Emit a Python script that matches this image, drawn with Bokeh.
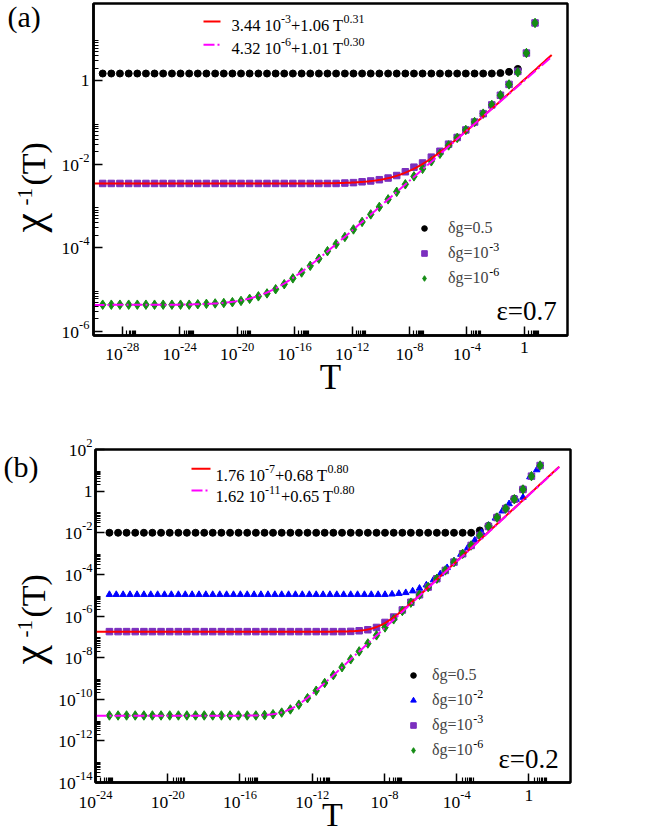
import math
import numpy as np
from bokeh.plotting import figure
from bokeh.models import (Range1d, FixedTicker, CustomJSTickFormatter, Label,
                          Arrow, Legend, LegendItem)
from bokeh.embed import file_html
from bokeh.resources import INLINE

SERIF = "Liberation Serif"
PURPLE = "#7b2fbe"
GREEN = "#148c14"
BLUE = "#0000ff"

# ---------------- panel (a): epsilon = 0.7 ----------------
# log10(T) of the data points
a_logT = [-29.36, -28.76, -28.16, -27.55, -26.95, -26.35, -25.75, -25.15, -24.54, -23.94,
          -23.34, -22.74, -22.14, -21.53, -20.93, -20.33, -19.73, -19.13, -18.52, -17.92,
          -17.32, -16.72, -16.12, -15.51, -14.91, -14.31, -13.71, -13.11, -12.50, -11.90,
          -11.30, -10.70, -10.10, -9.49, -8.89, -8.29, -7.69, -7.09, -6.48, -5.88,
          -5.28, -4.68, -4.08, -3.47, -2.87, -2.27, -1.67, -1.07, -0.46, 0.14, 0.74]
# log10(chi^-1) for dg = 0.5 (first 49 temperatures)
a_black = [0.17, 0.17, 0.17, 0.17, 0.17, 0.17, 0.17, 0.17, 0.17, 0.17,
           0.17, 0.17, 0.17, 0.17, 0.17, 0.17, 0.17, 0.17, 0.17, 0.17,
           0.17, 0.17, 0.17, 0.17, 0.17, 0.17, 0.17, 0.17, 0.17, 0.17,
           0.17, 0.17, 0.17, 0.17, 0.17, 0.17, 0.17, 0.17, 0.17, 0.17,
           0.17, 0.17, 0.17, 0.17, 0.17, 0.17, 0.18, 0.21, 0.28]
# dg = 1e-3
a_purple = [-2.46, -2.46, -2.46, -2.46, -2.46, -2.46, -2.46, -2.46, -2.46, -2.46,
            -2.46, -2.46, -2.46, -2.46, -2.46, -2.46, -2.46, -2.46, -2.46, -2.46,
            -2.46, -2.46, -2.46, -2.46, -2.46, -2.46, -2.46, -2.46, -2.45, -2.44,
            -2.42, -2.40, -2.37, -2.33, -2.27, -2.18, -2.07, -1.97, -1.83, -1.69,
            -1.52, -1.36, -1.18, -0.99, -0.79, -0.58, -0.35, -0.09, 0.22, 0.66, 1.38]
# dg = 1e-6
a_green = [-5.36, -5.36, -5.36, -5.36, -5.36, -5.36, -5.36, -5.36, -5.36, -5.36,
           -5.36, -5.35, -5.34, -5.33, -5.32, -5.30, -5.27, -5.22, -5.16, -5.09,
           -4.99, -4.87, -4.73, -4.59, -4.43, -4.26, -4.08, -3.91, -3.74, -3.56,
           -3.38, -3.20, -3.02, -2.84, -2.66, -2.48, -2.29, -2.11, -1.93, -1.75,
           -1.55, -1.37, -1.18, -0.99, -0.79, -0.58, -0.35, -0.09, 0.20, 0.66, 1.38]
# fit parameters  c + a*T^b  (from the legend)
a_fit_red = [3.44e-3, 1.06, 0.31]
a_fit_mag = [4.32e-6, 1.01, 0.30]
a_fit_logT_range = [-30.0, 1.9]
a_xrange = [1e-30, 1e3]
a_yrange = [8e-7, 70.0]
a_xmajor_exp = [-28, -24, -20, -16, -12, -8, -4, 0]
a_ymajor_exp = [-6, -4, -2, 0]

# ---------------- panel (b): epsilon = 0.2 ----------------
b_logT = [-23.23, -22.75, -22.28, -21.80, -21.32, -20.85, -20.37, -19.89, -19.41, -18.94,
          -18.46, -17.98, -17.51, -17.03, -16.55, -16.08, -15.60, -15.12, -14.64, -14.17,
          -13.69, -13.21, -12.74, -12.26, -11.78, -11.31, -10.83, -10.35, -9.87, -9.40,
          -8.92, -8.44, -7.97, -7.49, -7.01, -6.54, -6.06, -5.58, -5.10, -4.63,
          -4.15, -3.67, -3.20, -2.72, -2.24, -1.77, -1.29, -0.81, -0.33, 0.14, 0.62]
b_black = [-2.00, -2.00, -2.00, -2.00, -2.00, -2.00, -2.00, -2.00, -2.00, -2.00,
           -2.00, -2.00, -2.00, -2.00, -2.00, -2.00, -2.00, -2.00, -2.00, -2.00,
           -2.00, -2.00, -2.00, -2.00, -2.00, -2.00, -2.00, -2.00, -2.00, -2.00,
           -2.00, -2.00, -2.00, -2.00, -2.00, -2.00, -2.00, -2.00, -2.00, -2.00,
           -2.00, -2.00, -2.00, -1.89, -1.67, -1.25, -0.82, -0.37, 0.09]
b_blue_logT = [-23.23, -22.85, -22.47, -22.09, -21.70, -21.32, -20.94, -20.56, -20.18, -19.80,
               -19.41, -19.03, -18.65, -18.27, -17.89, -17.51, -17.12, -16.74, -16.36, -15.98,
               -15.60, -15.22, -14.84, -14.45, -14.07, -13.69, -13.31, -12.93, -12.55, -12.16,
               -11.78, -11.40, -11.02, -10.64, -10.26, -9.87, -9.49, -9.11, -8.73, -8.35,
               -7.97, -7.58, -7.20, -6.82, -6.44, -6.06, -5.68, -5.29, -4.91, -4.53,
               -4.15, -3.77, -3.39, -3.00, -2.62, -2.24, -1.86, -1.48, -1.10, -0.71,
               -0.33, 0.05, 0.43]
b_blue = [-4.97, -4.97, -4.97, -4.97, -4.97, -4.97, -4.97, -4.97, -4.97, -4.97,
          -4.97, -4.97, -4.97, -4.97, -4.97, -4.97, -4.97, -4.97, -4.97, -4.97,
          -4.97, -4.97, -4.97, -4.97, -4.97, -4.97, -4.97, -4.97, -4.97, -4.97,
          -4.97, -4.97, -4.97, -4.97, -4.97, -4.97, -4.97, -4.97, -4.97, -4.97,
          -4.97, -4.95, -4.92, -4.88, -4.80, -4.67, -4.51, -4.27, -3.98, -3.68,
          -3.36, -3.04, -2.72, -2.36, -1.99, -1.65, -1.30, -0.96, -0.61, -0.40,
          -0.30, 0.68, 1.02]
b_purple = [-6.75, -6.75, -6.75, -6.75, -6.75, -6.75, -6.75, -6.75, -6.75, -6.75,
            -6.75, -6.75, -6.75, -6.75, -6.75, -6.75, -6.75, -6.75, -6.75, -6.75,
            -6.75, -6.75, -6.75, -6.75, -6.75, -6.75, -6.75, -6.75, -6.74, -6.71,
            -6.66, -6.55, -6.31, -6.05, -5.71, -5.34, -4.98, -4.61, -4.21, -3.81,
            -3.41, -3.01, -2.61, -2.13, -1.70, -1.27, -0.84, -0.39, 0.08, 0.72, 1.23]
b_green = [-10.78, -10.78, -10.78, -10.78, -10.78, -10.78, -10.78, -10.78, -10.78, -10.78,
           -10.78, -10.78, -10.78, -10.78, -10.78, -10.78, -10.78, -10.78, -10.76, -10.72,
           -10.64, -10.49, -10.26, -9.95, -9.59, -9.22, -8.84, -8.46, -8.08, -7.70,
           -7.32, -6.93, -6.55, -6.16, -5.76, -5.36, -4.98, -4.61, -4.21, -3.81,
           -3.41, -3.01, -2.61, -2.13, -1.70, -1.27, -0.84, -0.39, 0.08, 0.72, 1.23]
b_fit_red = [1.76e-7, 0.68, 0.80]
b_fit_mag = [1.62e-11, 0.65, 0.80]
b_fit_logT_range = [-24.0, 1.68]
b_xrange = [1e-24, 200.0]
b_yrange = [1e-14, 1e2]
b_xmajor_exp = [-24, -20, -16, -12, -8, -4, 0]
b_ymajor_exp = [-14, -12, -10, -8, -6, -4, -2, 0, 2]

# ---------------- page geometry (frame boxes, px) ----------------
A_FRAME = dict(left=93, top=3, w=474, h=332)
B_FRAME = dict(left=95, top=449, w=475, h=333)
FIG_W = 620
A_H = 410
B_H = 425
PAGE_W = 660
PAGE_H = A_H + B_H

WIDTH = {c: 0.5 for c in "0123456789"}
WIDTH.update({".": 0.25, " ": 0.25, "+": 0.564, "-": 0.333, "T": 0.611, "=": 0.564,
              "δ": 0.49, "g": 0.5, "ε": 0.44, "(": 0.333, ")": 0.333, "a": 0.444,
              "b": 0.5, "χ": 0.55})
MID = 0.3375   # baseline offset of a vertically centred line, in em


def tw(s, size):
    return sum(WIDTH.get(ch, 0.5) for ch in s) * size


def make_fig(fr, top_of_fig, fig_h, xr, yr):
    p = figure(width=FIG_W, height=fig_h, x_axis_type="log", y_axis_type="log",
               x_range=Range1d(*xr), y_range=Range1d(*yr), output_backend="svg",
               toolbar_location=None, title=None,
               min_border_left=fr["left"],
               min_border_right=FIG_W - fr["left"] - fr["w"],
               min_border_top=fr["top"] - top_of_fig,
               min_border_bottom=top_of_fig + fig_h - fr["top"] - fr["h"])
    p.xgrid.visible = False
    p.ygrid.visible = False
    p.outline_line_color = "black"
    p.outline_line_width = 2.5
    p.outline_line_alpha = 1.0
    p.background_fill_color = "white"
    p.border_fill_color = "white"
    return p


def style_axes(p, xexps, yexps):
    for ax, exps in ((p.xaxis[0], xexps), (p.yaxis[0], yexps)):
        majors = [10.0 ** e for e in exps]
        minors = [m * 10.0 ** e for e in exps for m in range(2, 10)]
        ax.ticker = FixedTicker(ticks=majors, minor_ticks=minors)
        ax.formatter = CustomJSTickFormatter(code="return '';")
        ax.major_label_text_font_size = "1px"
        ax.axis_line_width = 2.5
        ax.axis_line_color = "black"
        ax.major_tick_in = 9
        ax.major_tick_out = 0
        ax.minor_tick_in = 5
        ax.minor_tick_out = 0
        ax.major_tick_line_width = 1.5
        ax.minor_tick_line_width = 1.2
        ax.major_tick_line_color = "black"
        ax.minor_tick_line_color = "black"
        ax.major_label_standoff = 0


def fit_curve(params, lohi):
    c, a, b = params
    T = np.logspace(lohi[0], lohi[1], 400)
    return T, c + a * T ** b


def pts(logx, logy):
    return [10.0 ** v for v in logx[:len(logy)]], [10.0 ** v for v in logy]


DASHDOT = "11 3 2 3"

# ---------------- transparent text overlay (page pixel coordinates) ----------------
ov = figure(width=PAGE_W, height=PAGE_H, x_range=Range1d(0, PAGE_W),
            y_range=Range1d(PAGE_H, 0), x_axis_location=None, y_axis_location=None,
            output_backend="svg", toolbar_location=None, title=None,
            min_border=0, min_border_left=0, min_border_right=0,
            min_border_top=0, min_border_bottom=0,
            background_fill_color=None, border_fill_color=None, outline_line_color=None,
            margin=(-PAGE_H, 0, 0, 0))
ov.grid.visible = False


def T_(X, Y, text, size, align="left", angle=0.0):
    # (X, Y) is the wanted baseline point; the label is anchored at its vertical middle
    d = MID * size
    if angle == 0.0:
        x, y = X, Y - d
    else:
        x, y = X - d, Y
    ov.add_layout(Label(x=x, y=y, text=text, text_font=SERIF, text_font_size=f"{size}px",
                        text_align=align, text_baseline="middle", angle=angle,
                        text_color="black"))


def rich(X, Y, parts, size, sup_size, rise):
    x = X
    for s, is_sup in parts:
        if is_sup:
            T_(x, Y - rise, s, sup_size)
            x += tw(s, sup_size)
        else:
            T_(x, Y, s, size)
            x += tw(s, size)


def seg(X0, X1, Y, color, dash="solid"):
    ov.add_layout(Arrow(x_start=X0, y_start=Y, x_end=X1, y_end=Y, start=None, end=None,
                        line_color=color, line_width=2, line_dash=dash))


TICK = 17.5
TSUP = 12.5
TRISE = 9.5


def tick_labels(fr, xr, yr, xexps, yexps, x_base, y_right):
    lx0, lx1 = math.log10(xr[0]), math.log10(xr[1])
    ly0, ly1 = math.log10(yr[0]), math.log10(yr[1])
    for e in xexps:
        X = fr["left"] + (e - lx0) / (lx1 - lx0) * fr["w"]
        if e == 0:
            T_(X, x_base - 7, "1", TICK, align="center")
            continue
        s = str(e)
        w10, ws = tw("10", TICK), tw(s, TSUP)
        x0 = X - (w10 + ws) / 2
        T_(x0, x_base, "10", TICK)
        T_(x0 + w10, x_base - TRISE, s, TSUP)
    for e in yexps:
        Y = fr["top"] + (ly1 - e) / (ly1 - ly0) * fr["h"]
        if e == 0:
            T_(y_right, Y + 6, "1", TICK, align="right")
            continue
        s = str(e)
        ws = tw(s, TSUP)
        T_(y_right - ws, Y + 7, "10", TICK, align="right")
        T_(y_right, Y + 7 - TRISE, s, TSUP, align="right")


def ytitle(S):
    T_(43, S, "χ", 44, angle=math.pi / 2)
    T_(32, S - 27, "-1", 21, angle=math.pi / 2)
    T_(44, S - 47, "(T)", 34, angle=math.pi / 2)


# ---------------- figure (a) ----------------
pa = make_fig(A_FRAME, 0, A_H, a_xrange, a_yrange)
style_axes(pa, a_xmajor_exp, a_ymajor_exp)

x, y = pts(a_logT, a_black)
ra_black = pa.scatter(x, y, marker="circle", size=7, fill_color="black", line_color="black")
x, y = pts(a_logT, a_purple)
ra_purple = pa.scatter(x, y, marker="square", size=6.5, fill_color=PURPLE, line_color=PURPLE)
x, y = pts(a_logT, a_green)
ra_green = pa.scatter(x, y, marker="diamond", size=9.5, fill_color=GREEN, line_color=GREEN)
T, f = fit_curve(a_fit_red, a_fit_logT_range)
pa.line(T, f, line_color="red", line_width=2)
T, f = fit_curve(a_fit_mag, a_fit_logT_range)
pa.line(T, f, line_color="magenta", line_width=2, line_dash=DASHDOT)

pa.add_layout(Legend(items=[LegendItem(label="δg=0.5", renderers=[ra_black]),
                            LegendItem(label="δg=10", renderers=[ra_purple]),
                            LegendItem(label="δg=10", renderers=[ra_green])],
                     location=(324, 46), glyph_width=14, glyph_height=22, label_height=22,
                     spacing=3, padding=0, margin=0, label_standoff=17,
                     label_text_font=SERIF, label_text_font_size="16px",
                     border_line_color=None, background_fill_alpha=0))
X0 = 93 + 324 + 14 + 17
for k, s in ((1, "-3"), (2, "-6")):
    T_(X0 + tw("δg=10", 16), 228 + 25 * k - 2.5, s, 12)

seg(203, 220, 21, "red")
rich(231, 31, [("3.44 10", 0), ("-3", 1), ("+1.06 T", 0), ("0.31", 1)], 16.5, 12, 8)
seg(203, 220, 44.3, "magenta", DASHDOT)
rich(231, 54, [("4.32 10", 0), ("-6", 1), ("+1.01 T", 0), ("0.30", 1)], 16.5, 12, 8)
T_(496, 320, "ε=0.7", 27)
T_(7, 26, "(a)", 30)
T_(330, 389, "T", 35, align="center")
ytitle(232)
tick_labels(A_FRAME, a_xrange, a_yrange, a_xmajor_exp, a_ymajor_exp, 360, 89)

# ---------------- figure (b) ----------------
pb = make_fig(B_FRAME, A_H, B_H, b_xrange, b_yrange)
style_axes(pb, b_xmajor_exp, b_ymajor_exp)

x, y = pts(b_logT, b_black)
rb_black = pb.scatter(x, y, marker="circle", size=7, fill_color="black", line_color="black")
x, y = pts(b_blue_logT, b_blue)
rb_blue = pb.scatter(x, y, marker="triangle", size=6.5, fill_color=BLUE, line_color=BLUE)
x, y = pts(b_logT, b_purple)
rb_purple = pb.scatter(x, y, marker="square", size=6.5, fill_color=PURPLE, line_color=PURPLE)
x, y = pts(b_logT, b_green)
rb_green = pb.scatter(x, y, marker="diamond", size=9.5, fill_color=GREEN, line_color=GREEN)
T, f = fit_curve(b_fit_red, b_fit_logT_range)
pb.line(T, f, line_color="red", line_width=2)
T, f = fit_curve(b_fit_mag, b_fit_logT_range)
pb.line(T, f, line_color="magenta", line_width=2, line_dash=DASHDOT)

pb.add_layout(Legend(items=[LegendItem(label="δg=0.5", renderers=[rb_black]),
                            LegendItem(label="δg=10", renderers=[rb_blue]),
                            LegendItem(label="δg=10", renderers=[rb_purple]),
                            LegendItem(label="δg=10", renderers=[rb_green])],
                     location=(311, 21), glyph_width=14, glyph_height=22, label_height=22,
                     spacing=3, padding=0, margin=0, label_standoff=12,
                     label_text_font=SERIF, label_text_font_size="16px",
                     border_line_color=None, background_fill_alpha=0))
X0 = 95 + 311 + 14 + 12
for k, s in ((1, "-2"), (2, "-3"), (3, "-6")):
    T_(X0 + tw("δg=10", 16), 675 + 25 * k - 2.5, s, 12)

seg(191, 210, 468.3, "red")
rich(215, 480.5, [("1.76 10", 0), ("-7", 1), ("+0.68 T", 0), ("0.80", 1)], 16.5, 12, 8)
seg(191, 210, 490, "magenta", DASHDOT)
rich(215, 502, [("1.62 10", 0), ("-11", 1), ("+0.65 T", 0), ("0.80", 1)], 16.5, 12, 8)
T_(498, 768, "ε=0.2", 27)
T_(3, 476, "(b)", 30)
T_(332, 825, "T", 34, align="center")
ytitle(664)
tick_labels(B_FRAME, b_xrange, b_yrange, b_xmajor_exp, b_ymajor_exp, 808, 92)

# three independent roots: the two panels stacked, the text overlay pulled up over them
open("out.html", "w").write(file_html([pa, pb, ov], INLINE))
